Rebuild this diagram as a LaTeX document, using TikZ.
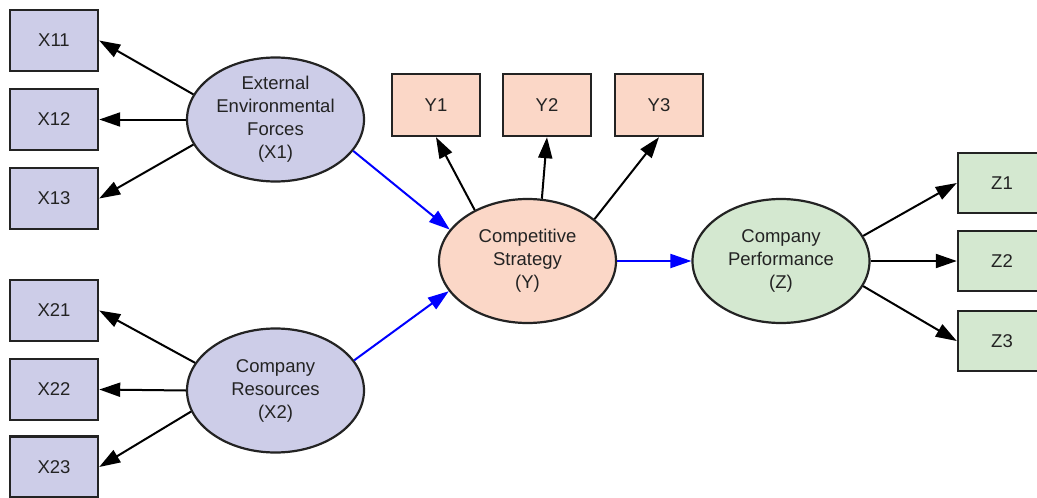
\documentclass[tikz,border=0pt]{standalone}
\usepackage{fontspec}
\setmainfont{Liberation Sans}
\usetikzlibrary{shapes.geometric,arrows.meta}
\definecolor{xfill}{RGB}{205,205,232}
\definecolor{yfill}{RGB}{251,215,199}
\definecolor{zfill}{RGB}{212,232,208}
\definecolor{edgec}{RGB}{35,35,35}
\definecolor{txt}{RGB}{35,35,35}
\definecolor{pathblue}{RGB}{0,0,255}
\begin{document}
\begin{tikzpicture}[x=1pt,y=-1pt,
  font=\fontsize{18.5}{23}\selectfont,
  obsbox/.style={draw=edgec,line width=2.4pt,minimum width=88pt,minimum height=61pt,inner sep=0pt,text=txt},
  latent/.style={ellipse,draw=edgec,line width=2.2pt,minimum width=177pt,minimum height=124pt,inner sep=0pt,align=center,text=txt},
  load/.style={draw=black,line width=2pt,-{Triangle[length=21pt,width=14pt]}},
  path/.style={draw=pathblue,line width=2pt,-{Triangle[length=21pt,width=14pt]}}]
\useasboundingbox (0,0) rectangle (1037,498);
\clip (0,0) rectangle (1037,498);
% indicators
\node[obsbox,fill=xfill] (X11) at (54,40.5) {X11};
\node[obsbox,fill=xfill] (X12) at (54,119.5) {X12};
\node[obsbox,fill=xfill] (X13) at (54,198.5) {X13};
\node[obsbox,fill=xfill] (X21) at (54,310.5) {X21};
\node[obsbox,fill=xfill] (X22) at (54,389.5) {X22};
\node[obsbox,fill=xfill] (X23) at (54,467) {X23};
\node[obsbox,fill=yfill,minimum height=62pt] (Y1) at (436,105) {Y1};
\node[obsbox,fill=yfill,minimum height=62pt] (Y2) at (547,105) {Y2};
\node[obsbox,fill=yfill,minimum height=62pt] (Y3) at (659,105) {Y3};
\node[obsbox,fill=zfill,minimum height=60pt] (Z1) at (1002,183) {Z1};
\node[obsbox,fill=zfill,minimum height=60pt] (Z2) at (1002,261) {Z2};
\node[obsbox,fill=zfill,minimum height=60pt] (Z3) at (1002,341) {Z3};
% latent variables
\node[latent,fill=xfill] (X1) at (275.5,119.5) {External\\Environmental\\Forces\\(X1)};
\node[latent,fill=xfill] (X2) at (275.5,390.5) {Company\\Resources\\(X2)};
\node[latent,fill=yfill] (Y) at (527.5,261) {Competitive\\Strategy\\(Y)};
\node[latent,fill=zfill] (Z) at (781,261) {Company\\Performance\\(Z)};
% loadings
\draw[load] (X1.163) -- (X11.east);
\draw[load] (X1.west) -- (X12.east);
\draw[load] (X1.197) -- (X13.east);
\draw[load] (X2.161) -- (X21.east);
\draw[load] (X2.west) -- (X22.east);
\draw[load] (X2.194) -- (X23.east);
\draw[load] (Y.136) -- (Y1.south);
\draw[load] (Y.77) -- (Y2.south);
\draw[load] (Y.32) -- (Y3.south);
\draw[load] (Z.17) -- (Z1.west);
\draw[load] (Z.east) -- (Z2.west);
\draw[load] (Z.343) -- (Z3.west);
% structural paths
\draw[path] (X1.338) -- (Y.158);
\draw[path] (X2.21) -- (Y.201);
\draw[path] (Y.east) -- (Z.west);
\end{tikzpicture}
\end{document}
